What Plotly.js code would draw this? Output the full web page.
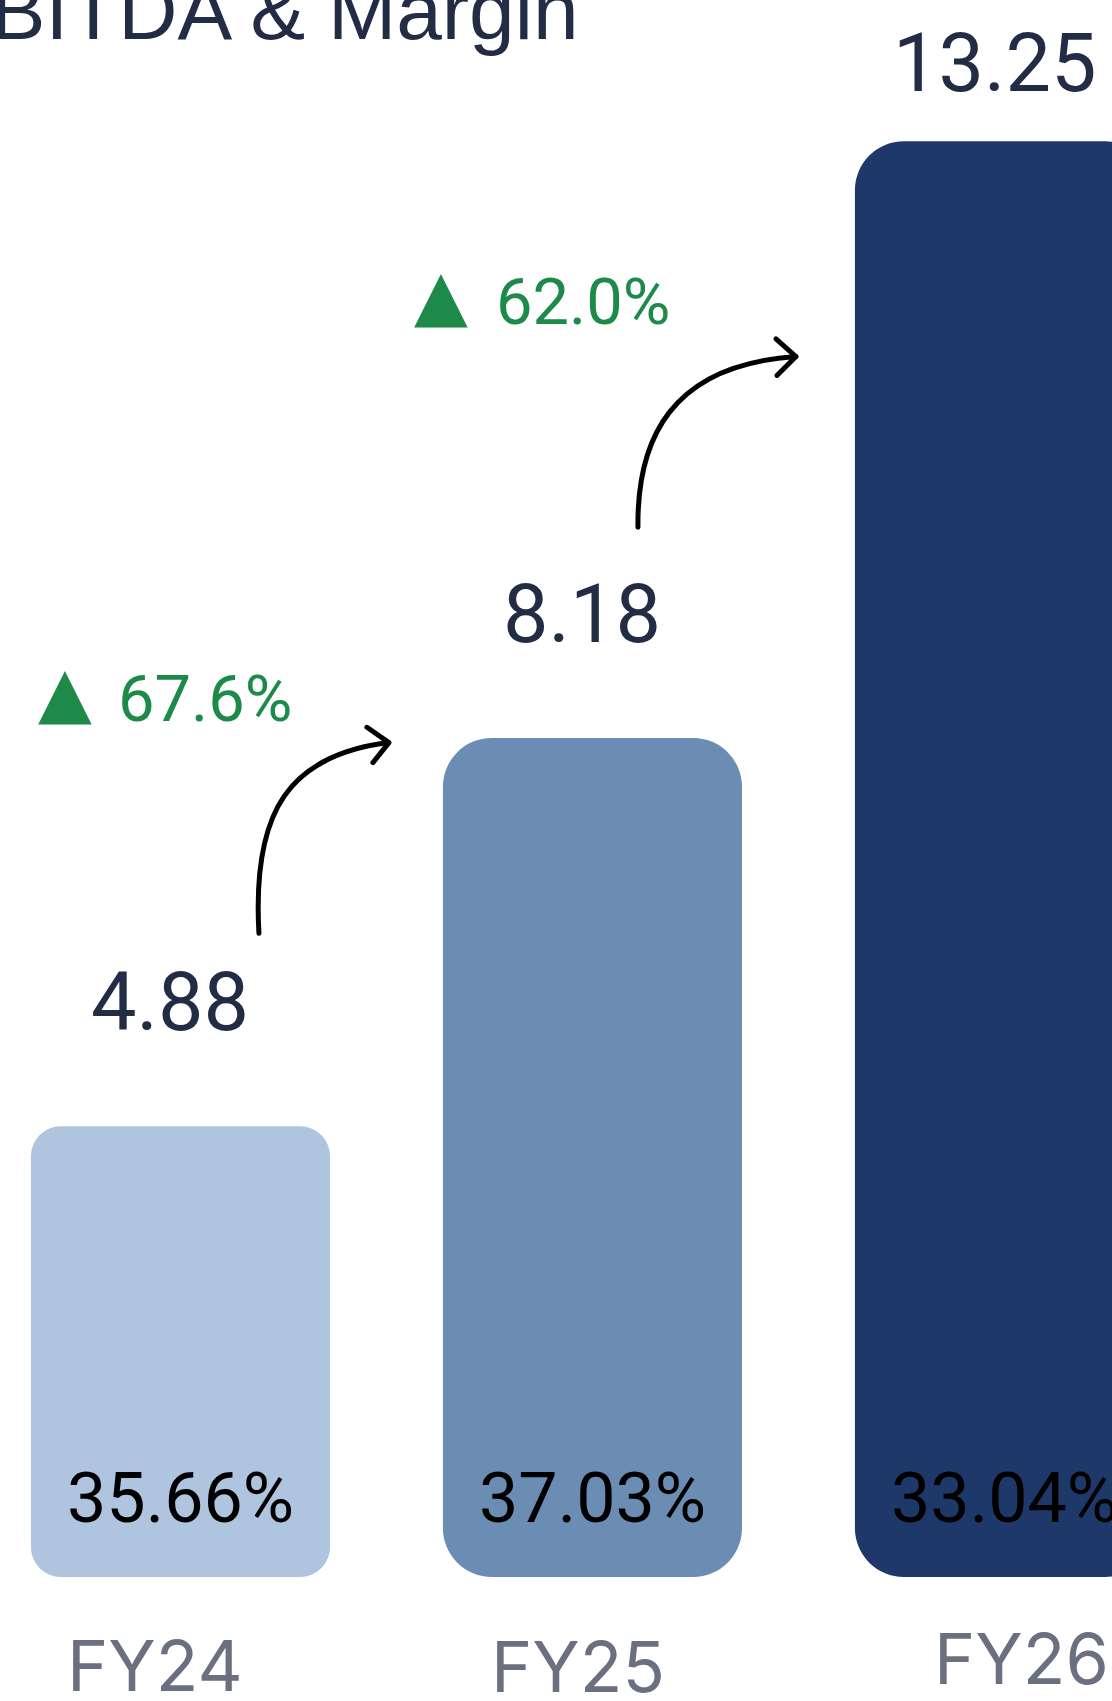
<!DOCTYPE html>
<html><head><meta charset="utf-8">
<script src="https://cdn.plot.ly/plotly-3.0.1.min.js"></script>
<style>html,body{margin:0;padding:0;background:#fff;overflow:hidden}#chart{width:1112px;height:1701px}</style>
</head><body><div id="chart"></div>
<script>
// ---- data ----
const categories = ['FY24', 'FY25', 'FY26'];
const ebitda = [4.88, 8.18, 13.25];
const marginPct = [35.66, 37.03, 33.04];
const growthPct = [67.6, 62.0];
const chartTitle = 'EBITDA & Margin';

// ---- style ----
const barColors = ['#aec4df', '#6b8db3', '#1d3869'];
const cornerRadii = [30, 49, 49];
const AXIS_FLOOR = 1.05;
const AXIS_TOP = 14.45;
const BAR_WIDTH = 0.726;
const valueLift = [124, 123, 78];     // px above bar value
const catLabelShift = [[-25, -88], [-14, -89], [17, -81]];
const growthTri = [-0.350, 0.562];
const growthTxt = [-0.157, 0.760];
const growthY = [8.51, 11.88];
const arrowGeom = [
  {c: [[0.1905, 6.52], [0.1735, 7.57], [0.2658, 8.03], [0.5036, 8.14]], h: [[0.4527, 8.27], [0.5060, 8.14], [0.4672, 7.97]]},
  {c: [[1.1104, 9.97], [1.1080, 10.71], [1.1880, 11.35], [1.4939, 11.42]], h: [[1.4454, 11.57], [1.4939, 11.42], [1.4478, 11.26]]}
];
const navyText = '#222c45';
const green = '#1e8a4a';

const traces = categories.map((c, i) => ({
  type: 'bar', x: [c], y: [ebitda[i] - AXIS_FLOOR], base: [AXIS_FLOOR], width: [BAR_WIDTH],
  hoverinfo: 'skip', showlegend: false,
  marker: {color: barColors[i], cornerradius: cornerRadii[i], line: {width: 0}}
}));

const annotations = [];
// title
annotations.push({xref: 'paper', yref: 'paper', x: -0.059, y: 0.9935, xanchor: 'left', yanchor: 'middle',
  text: chartTitle, showarrow: false, font: {family: 'Liberation Sans, Arial, sans-serif', size: 82, color: navyText}});
categories.forEach((c, i) => {
  // value above bar
  annotations.push({x: c, y: ebitda[i], yshift: valueLift[i], xshift: -10, yanchor: 'middle', showarrow: false,
    text: ebitda[i].toFixed(2), font: {family: 'Roboto, sans-serif', size: 81, color: navyText}});
  // margin inside bar
  annotations.push({x: c, y: AXIS_FLOOR, yshift: 79, yanchor: 'middle', showarrow: false,
    text: marginPct[i].toFixed(2) + '%', font: {family: 'Roboto, sans-serif', size: 70, color: '#000000'}});
  // category label
  annotations.push({x: c, y: AXIS_FLOOR, xshift: catLabelShift[i][0], yshift: catLabelShift[i][1], yanchor: 'middle',
    showarrow: false, text: c, font: {family: 'Inter, sans-serif', size: 70, color: '#6b7080'}});
});
// growth labels
growthPct.forEach((g, i) => {
  annotations.push({x: growthTri[i], y: growthY[i], yshift: 7, xanchor: 'left', yanchor: 'middle', showarrow: false,
    text: '▲', font: {family: 'DejaVu Sans, sans-serif', size: 70, color: green}});
  annotations.push({x: growthTxt[i], y: growthY[i], xanchor: 'left', yanchor: 'middle', showarrow: false,
    text: g.toFixed(1) + '%', font: {family: 'Roboto, sans-serif', size: 65, color: green}});
});

const shapes = [];
arrowGeom.forEach(a => {
  const p = a.c.map(q => q[0] + ',' + q[1]);
  shapes.push({type: 'path', xref: 'x', yref: 'y', path: 'M ' + p[0] + ' C ' + p[1] + ' ' + p[2] + ' ' + p[3],
    line: {color: '#000000', width: 5}});
  const h = a.h.map(q => q[0] + ',' + q[1]);
  shapes.push({type: 'path', xref: 'x', yref: 'y', path: 'M ' + h[0] + ' L ' + h[1] + ' L ' + h[2],
    line: {color: '#000000', width: 5}});
});

const layout = {
  width: 1112, height: 1701,
  margin: {l: 0, r: 0, t: 0, b: 124, pad: 0},
  paper_bgcolor: '#ffffff', plot_bgcolor: '#ffffff',
  barmode: 'overlay', showlegend: false,
  xaxis: {type: 'category', categoryarray: categories, range: [-0.438, 2.261], showgrid: false, zeroline: false,
    showline: false, ticks: '', showticklabels: false, fixedrange: true},
  yaxis: {range: [AXIS_FLOOR, AXIS_TOP], visible: false, fixedrange: true},
  annotations: annotations,
  shapes: shapes
};

Plotly.newPlot('chart', traces, layout, {staticPlot: true, displayModeBar: false}).then(() => {
  document.querySelectorAll('.shapelayer path').forEach(p => {
    p.style.strokeLinecap = 'round';
    p.style.strokeLinejoin = 'round';
  });
});
</script></body></html>
